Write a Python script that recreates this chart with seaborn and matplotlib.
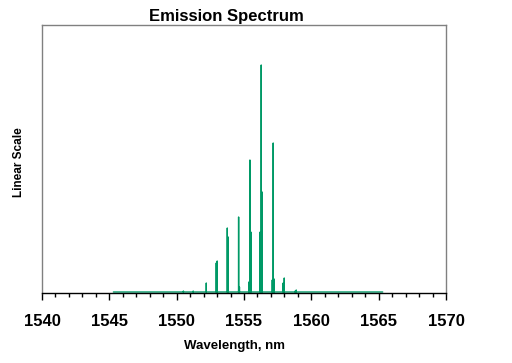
import matplotlib
matplotlib.use("Agg")
import matplotlib.pyplot as plt
import seaborn as sns
import pandas as pd
from matplotlib.ticker import MultipleLocator

# Data
peak_wavelengths = [1550.50, 1551.23, 1552.20, 1552.94, 1553.01, 1553.76, 1553.83,
                    1554.60, 1554.66, 1555.36, 1555.44, 1555.51, 1556.20, 1556.28,
                    1556.35, 1557.10, 1557.17, 1557.24, 1557.91, 1557.99, 1558.80, 1558.88]
peak_intensity = [1, 1, 9, 29, 31, 64, 55,
                  75, 5, 10, 132, 60, 60, 227,
                  100, 12, 149, 13, 9, 14, 1, 2]
span_start, span_end = 1545.3, 1565.3
xticks = [1540, 1545, 1550, 1555, 1560, 1565, 1570]

# build spectrum trace
xs, ys = [span_start], [0]
for p, h in zip(peak_wavelengths, peak_intensity):
    xs += [p - 0.002, p, p + 0.002]
    ys += [0, h, 0]
xs.append(span_end)
ys.append(0)
df = pd.DataFrame({"wl": xs, "I": ys})

sns.set_style("white")
plt.rcParams['font.family'] = ['Liberation Sans', 'DejaVu Sans']
plt.rcParams['text.color'] = 'black'
plt.rcParams['xtick.color'] = 'black'

fig = plt.figure(figsize=(5.12, 3.63), dpi=100)
ax = fig.add_axes([42/512, 1-293/363, (446-42)/512, (293-25)/363])
sns.lineplot(data=df, x="wl", y="I", ax=ax, sort=False, estimator=None,
             color="#009966", linewidth=1.0)

ax.set_xlim(1540, 1570)
ax.set_ylim(-1, 267)
ax.set_xticks(xticks)
ax.xaxis.set_minor_locator(MultipleLocator(1))
ax.set_yticks([])
ax.tick_params(axis='x', which='major', direction='out', length=5, width=1,
               color='black', labelcolor='black', labelsize=12, pad=10, bottom=True)
ax.tick_params(axis='x', which='minor', direction='out', length=3, width=1,
               color='black', bottom=True)
for lab in ax.get_xticklabels():
    lab.set_fontweight('bold')
for s in ['left', 'top', 'right']:
    ax.spines[s].set_color('#808080')
    ax.spines[s].set_linewidth(1)
ax.spines['bottom'].set_color('black')
ax.spines['bottom'].set_linewidth(1)
ax.set_xlabel("")
ax.set_ylabel("")

fig.text(226/512, 1-17/363, "Emission Spectrum", ha='center', va='center',
         fontsize=12, fontweight='bold', color='black')
fig.text(19/512, 1-162/363, "Linear Scale", ha='center', va='center',
         rotation=90, fontsize=8.5, fontweight='bold', color='black')
fig.text(234/512, 1-346/363, "Wavelength, nm", ha='center', va='center',
         fontsize=9.5, fontweight='bold', color='black')

fig.savefig("out.png", dpi=100)
